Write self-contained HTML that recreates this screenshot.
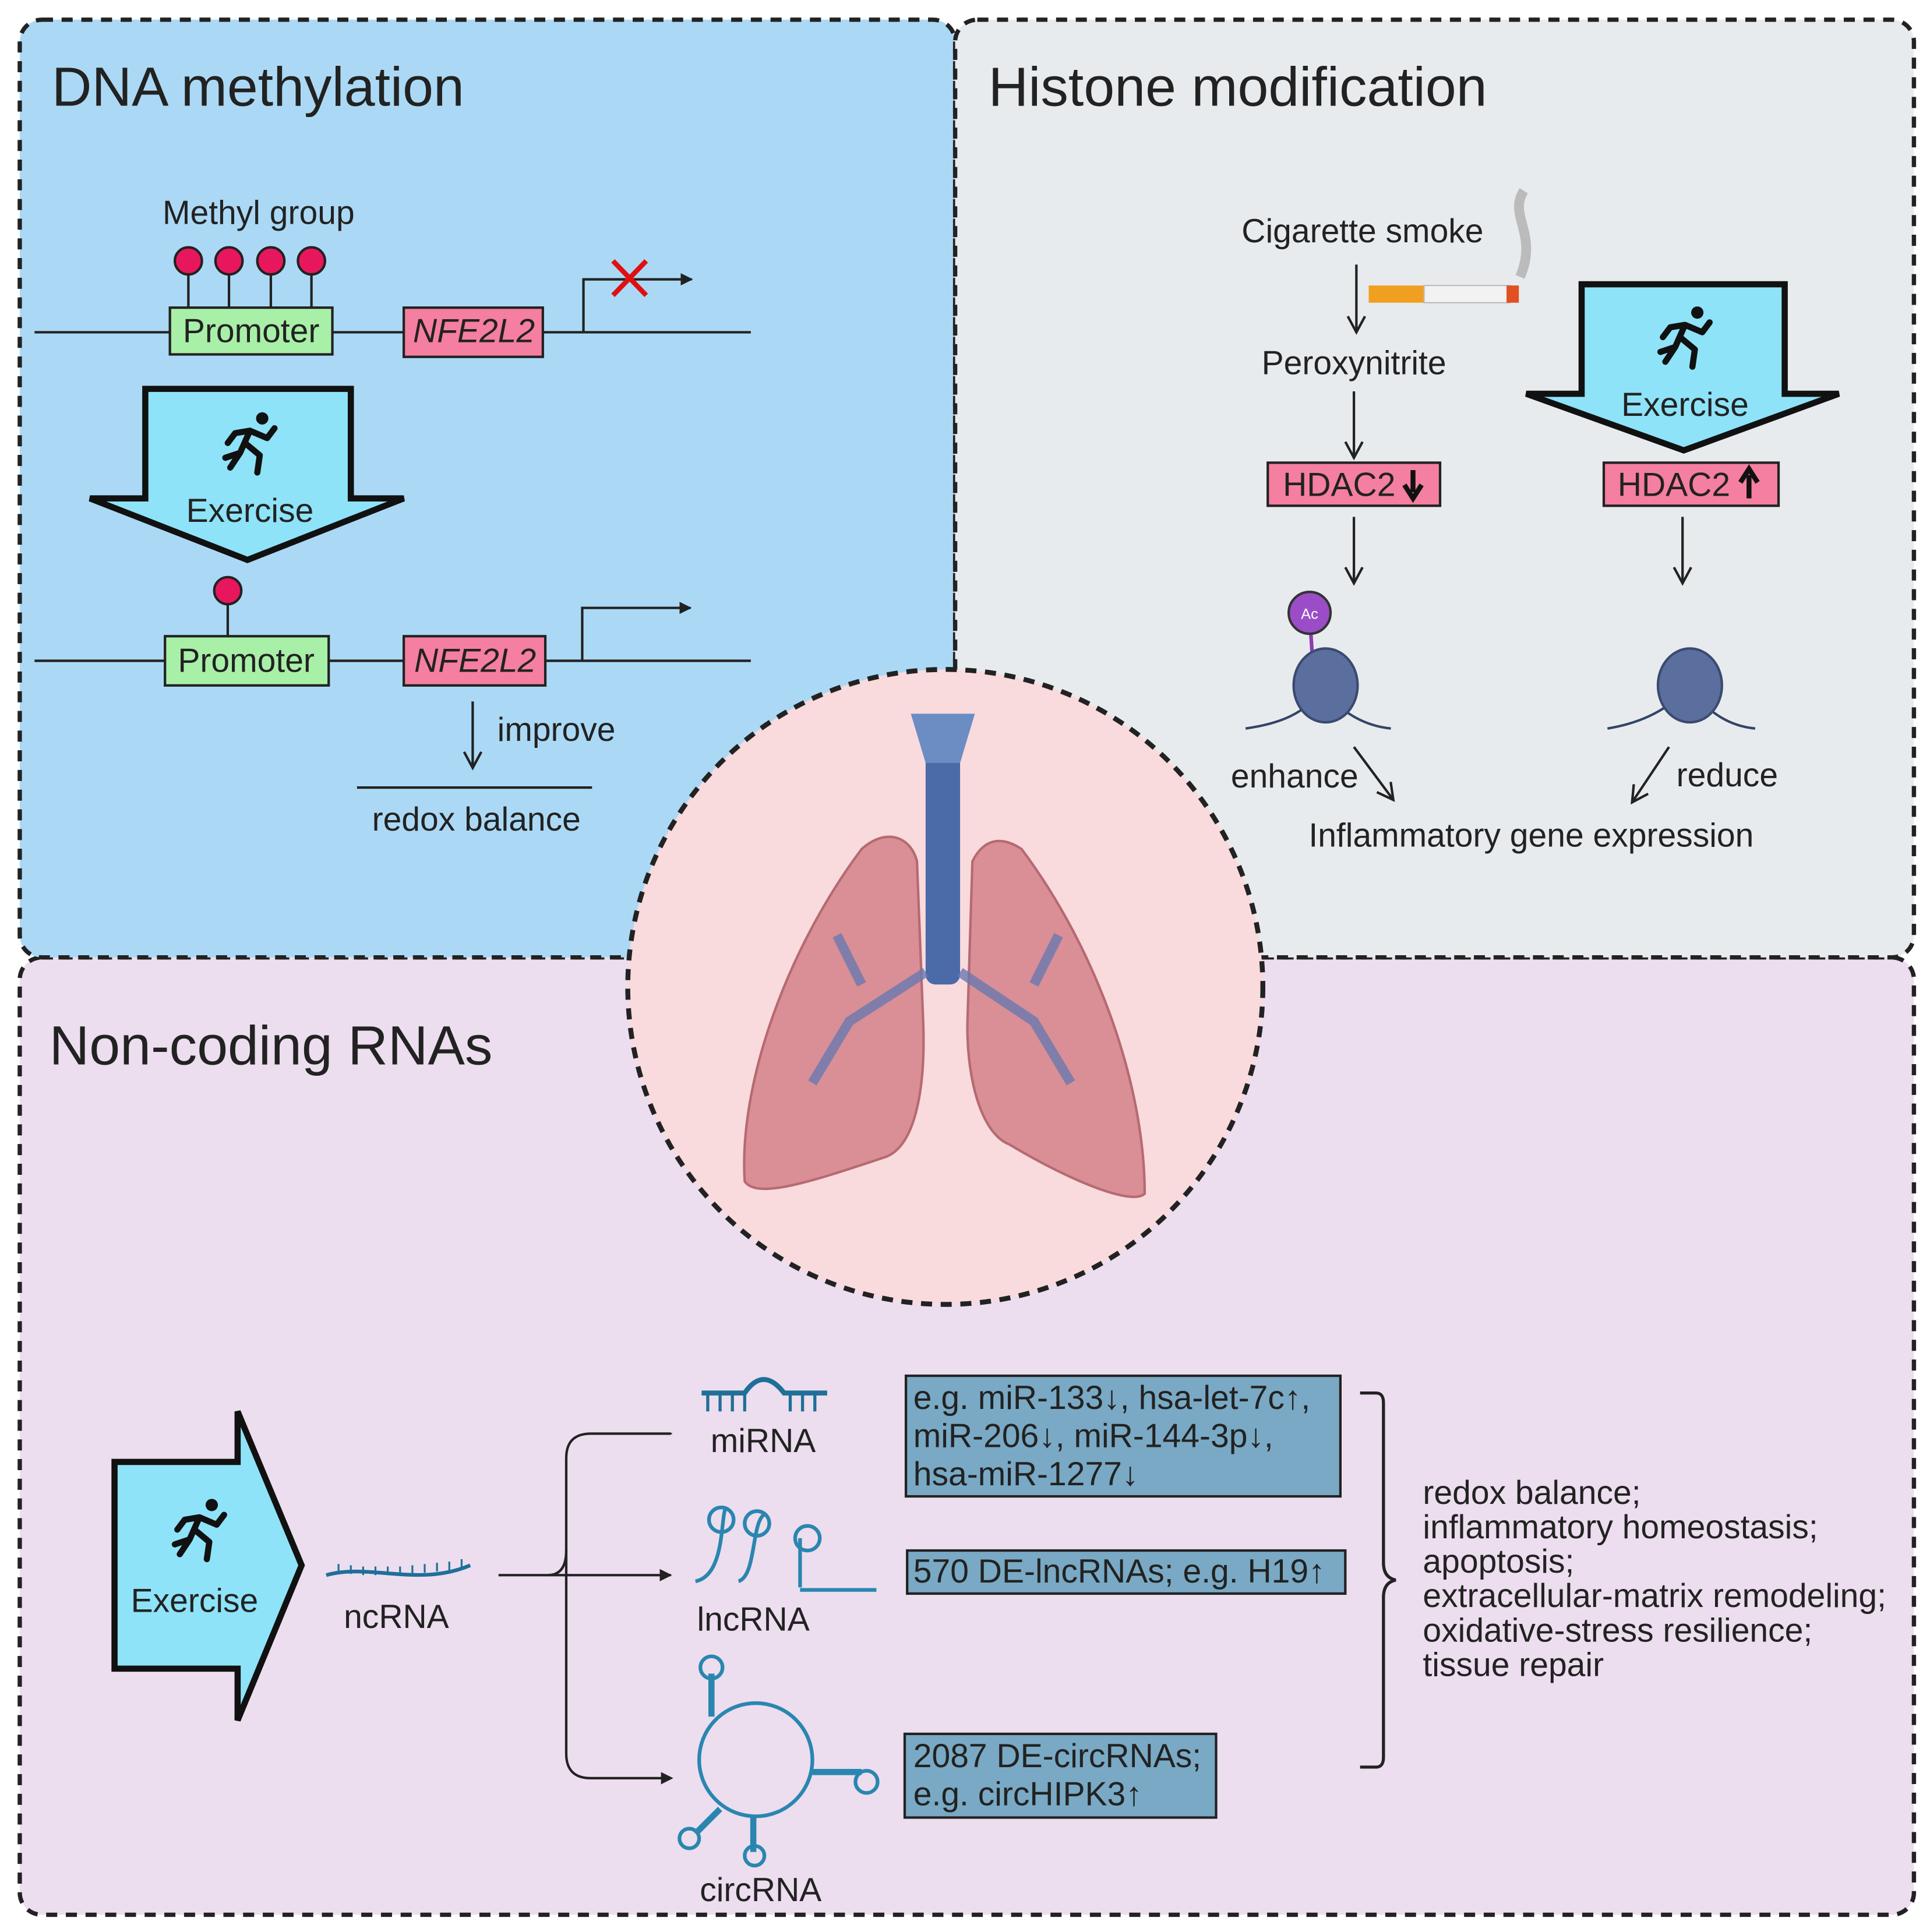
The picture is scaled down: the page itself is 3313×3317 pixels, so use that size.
<!DOCTYPE html>
<html><head><meta charset="utf-8"><style>html,body{margin:0;padding:0;background:#fff}svg{display:block}text{font-family:"Liberation Sans",sans-serif;fill:#222}</style></head><body>
<svg width="3313" height="3317" viewBox="0 0 1568 1570" xmlns="http://www.w3.org/2000/svg">
<defs>
<marker id="ah" markerWidth="10" markerHeight="10" refX="9" refY="5" orient="auto" markerUnits="userSpaceOnUse"><path d="M0,0 L10,5 L0,10 z" fill="#222"/></marker>
<marker id="av" markerWidth="16" markerHeight="16" refX="14" refY="8" orient="auto" markerUnits="userSpaceOnUse"><path d="M1,1 L14,8 L1,15" fill="none" stroke="#222" stroke-width="2"/></marker>
<g id="runner"><circle cx="12" cy="-22" r="5" fill="#111"/><path d="M-18,10 L-6,6 L2,-12 L16,-6 L22,-14 M2,-12 L-10,-10 L-16,-2 M-2,-2 L10,8 L8,22 M-6,6 L-14,18" stroke="#111" stroke-width="5" fill="none" stroke-linecap="round" stroke-linejoin="round"/></g>
</defs>
<rect width="1568" height="1570" fill="#fff"/>
<rect x="16" y="778" width="1539" height="778" rx="18" fill="#ecdeee" stroke="#222" stroke-width="3.5" stroke-dasharray="9,7"/>
<rect x="16" y="16" width="760" height="762" rx="18" fill="#abd9f5" stroke="#222" stroke-width="3.5" stroke-dasharray="9,7"/>
<rect x="776" y="16" width="779" height="762" rx="18" fill="#e8ebee" stroke="#222" stroke-width="3.5" stroke-dasharray="9,7"/>
<text x="42" y="86" font-size="45">DNA methylation</text>
<text x="803" y="86" font-size="45">Histone modification</text>
<text x="40" y="865" font-size="45">Non-coding RNAs</text>
<!-- DNA methylation -->
<text x="132" y="182" font-size="27">Methyl group</text>
<line x1="28" y1="270" x2="610" y2="270" stroke="#222" stroke-width="2"/>
<g stroke="#222" stroke-width="2" fill="#e8175d"><line x1="153" y1="212" x2="153" y2="252"/><line x1="186" y1="212" x2="186" y2="252"/><line x1="220" y1="212" x2="220" y2="252"/><line x1="253" y1="212" x2="253" y2="252"/><circle cx="153" cy="212" r="11"/><circle cx="186" cy="212" r="11"/><circle cx="220" cy="212" r="11"/><circle cx="253" cy="212" r="11"/></g>
<rect x="138" y="250" width="132" height="38" fill="#a8f0a8" stroke="#222" stroke-width="2"/><text x="204" y="278" font-size="27" text-anchor="middle">Promoter</text>
<rect x="328" y="250" width="113" height="40" fill="#f57fa0" stroke="#222" stroke-width="2"/><text x="385" y="278" font-size="27" text-anchor="middle" font-style="italic">NFE2L2</text>
<path d="M474,270 V227 H562" stroke="#222" stroke-width="2" fill="none" marker-end="url(#ah)"/>
<path d="M498,212 L525,240 M525,212 L498,240" stroke="#e01010" stroke-width="4"/>
<path d="M118,316 H285 V405 H328 L201,455 L73,405 H118 Z" fill="#8ee3f8" stroke="#111" stroke-width="5"/>
<use href="#runner" x="201" y="362"/><text x="203" y="424" font-size="27" text-anchor="middle">Exercise</text>
<line x1="28" y1="537" x2="610" y2="537" stroke="#222" stroke-width="2"/>
<line x1="185" y1="480" x2="185" y2="518" stroke="#222" stroke-width="2"/><circle cx="185" cy="480" r="11" fill="#e8175d" stroke="#222" stroke-width="2"/>
<rect x="134" y="517" width="133" height="40" fill="#a8f0a8" stroke="#222" stroke-width="2"/><text x="200" y="546" font-size="27" text-anchor="middle">Promoter</text>
<rect x="328" y="517" width="115" height="40" fill="#f57fa0" stroke="#222" stroke-width="2"/><text x="386" y="546" font-size="27" text-anchor="middle" font-style="italic">NFE2L2</text>
<path d="M473,537 V494 H561" stroke="#222" stroke-width="2" fill="none" marker-end="url(#ah)"/>
<line x1="384" y1="570" x2="384" y2="624" stroke="#222" stroke-width="2" marker-end="url(#av)"/>
<text x="404" y="602" font-size="27">improve</text>
<line x1="290" y1="640" x2="481" y2="640" stroke="#222" stroke-width="2"/>
<text x="387" y="675" font-size="27" text-anchor="middle">redox balance</text>
<!-- Histone -->
<text x="1107" y="197" font-size="27" text-anchor="middle">Cigarette smoke</text>
<rect x="1112" y="232" width="45" height="14" fill="#f0a020"/><rect x="1157" y="232" width="70" height="14" fill="#f2f2f2" stroke="#bbb"/><rect x="1224" y="232" width="10" height="14" fill="#e05020"/>
<path d="M1238,155 C1225,175 1250,190 1235,225" stroke="#bbb" stroke-width="8" fill="none"/>
<line x1="1102" y1="215" x2="1102" y2="270" stroke="#222" stroke-width="2" marker-end="url(#av)"/>
<text x="1100" y="304" font-size="27" text-anchor="middle">Peroxynitrite</text>
<line x1="1100" y1="318" x2="1100" y2="372" stroke="#222" stroke-width="2" marker-end="url(#av)"/>
<rect x="1030" y="376" width="140" height="35" fill="#f57fa0" stroke="#222" stroke-width="2"/><text x="1088" y="403" font-size="27" text-anchor="middle">HDAC2</text><path d="M1148,382 V400 M1141,394 L1148,405 L1155,394" stroke="#111" stroke-width="4" fill="none"/>
<path d="M1285,231 H1450 V320 H1494 L1368,366 L1240,320 H1285 Z" fill="#8ee3f8" stroke="#111" stroke-width="5"/>
<use href="#runner" x="1367" y="276"/><text x="1369" y="338" font-size="27" text-anchor="middle">Exercise</text>
<rect x="1303" y="376" width="142" height="35" fill="#f57fa0" stroke="#222" stroke-width="2"/><text x="1360" y="403" font-size="27" text-anchor="middle">HDAC2</text><path d="M1421,405 V386 M1414,392 L1421,381 L1428,392" stroke="#111" stroke-width="4" fill="none"/>
<line x1="1100" y1="420" x2="1100" y2="474" stroke="#222" stroke-width="2" marker-end="url(#av)"/>
<line x1="1367" y1="420" x2="1367" y2="474" stroke="#222" stroke-width="2" marker-end="url(#av)"/>
<line x1="1064" y1="500" x2="1066" y2="530" stroke="#8a3fb0" stroke-width="3"/><circle cx="1064" cy="498" r="17" fill="#9b4dc8" stroke="#333" stroke-width="2"/><text x="1064" y="503" font-size="12" text-anchor="middle" style="fill:#fff">Ac</text>
<path d="M1012,592 C1040,588 1060,580 1075,560 C1090,580 1110,590 1130,592" stroke="#334466" stroke-width="2" fill="none"/>
<ellipse cx="1077" cy="557" rx="26" ry="30" fill="#5a6f9e" stroke="#3a4a70" stroke-width="2"/>
<path d="M1306,592 C1330,588 1350,580 1372,560 C1390,580 1405,590 1426,592" stroke="#334466" stroke-width="2" fill="none"/>
<ellipse cx="1373" cy="557" rx="26" ry="30" fill="#5a6f9e" stroke="#3a4a70" stroke-width="2"/>
<text x="1000" y="640" font-size="27">enhance</text>
<line x1="1100" y1="607" x2="1132" y2="650" stroke="#222" stroke-width="2" marker-end="url(#av)"/>
<line x1="1356" y1="607" x2="1326" y2="652" stroke="#222" stroke-width="2" marker-end="url(#av)"/>
<text x="1362" y="639" font-size="27">reduce</text>
<text x="1244" y="688" font-size="27" text-anchor="middle">Inflammatory gene expression</text>
<!-- center circle -->
<circle cx="768" cy="802" r="258" fill="#f9dadd" stroke="#222" stroke-width="4" stroke-dasharray="9,7"/>
<path d="M745,700 C740,680 720,672 700,690 C640,770 600,880 605,960 C615,975 660,960 720,940 C745,930 752,880 750,830 Z" fill="#d98f95" stroke="#b56a72" stroke-width="2"/>
<path d="M790,700 C800,680 815,680 830,690 C890,770 930,880 930,970 C920,980 870,960 820,930 C795,920 785,870 786,830 Z" fill="#d98f95" stroke="#b56a72" stroke-width="2"/>
<rect x="752" y="590" width="28" height="210" rx="8" fill="#4a6aa8"/>
<path d="M740,580 H792 L780,620 H752 Z" fill="#6c8cc4"/>
<path d="M752,790 L690,830 L660,880 M780,790 L840,830 L870,880 M700,800 L680,760 M840,800 L860,760" stroke="#6a78b0" stroke-width="8" fill="none" opacity="0.8"/>
<!-- Non-coding -->
<path d="M93,1188 H193 V1147 L245,1272 L193,1398 V1356 H93 Z" fill="#8ee3f8" stroke="#111" stroke-width="5"/>
<use href="#runner" x="160" y="1245"/><text x="158" y="1310" font-size="27" text-anchor="middle">Exercise</text>
<path d="M265,1280 C300,1270 340,1290 382,1272" stroke="#1f6f98" stroke-width="3" fill="none"/>
<path d="M275,1278 v-7 M285,1279 v-7 M295,1280 v-7 M305,1280 v-7 M315,1280 v-7 M325,1280 v-7 M335,1279 v-7 M345,1278 v-7 M355,1277 v-7 M365,1276 v-7 M375,1274 v-7" stroke="#1f6f98" stroke-width="1.5"/>
<text x="322" y="1323" font-size="27" text-anchor="middle">ncRNA</text>
<line x1="405" y1="1280" x2="545" y2="1280" stroke="#222" stroke-width="2" marker-end="url(#ah)"/>
<path d="M545,1165 H480 Q460,1165 460,1185 V1425 Q460,1445 480,1445 H545" stroke="#222" stroke-width="2" fill="none"/>
<path d="M445,1280 Q460,1280 460,1260" stroke="#222" stroke-width="2" fill="none"/>
<path d="M540,1165 h6 M540,1445 h6" stroke="#222" marker-end="url(#ah)"/>
<path d="M570,1132 H605 Q620,1110 637,1132 H672" stroke="#1f6f98" stroke-width="4" fill="none"/>
<path d="M575,1132 v15 M585,1132 v15 M595,1132 v15 M605,1132 v15 M642,1132 v15 M652,1132 v15 M662,1132 v15" stroke="#1f6f98" stroke-width="2.5"/>
<text x="620" y="1180" font-size="27" text-anchor="middle">miRNA</text>
<path d="M565,1285 C590,1280 585,1230 590,1225 M600,1285 C615,1280 610,1235 622,1230 M650,1290 V1250 M650,1292 H712" stroke="#2a86b0" stroke-width="3" fill="none"/>
<circle cx="586" cy="1235" r="10" fill="none" stroke="#2a86b0" stroke-width="3"/><circle cx="615" cy="1238" r="10" fill="none" stroke="#2a86b0" stroke-width="3"/><circle cx="656" cy="1250" r="10" fill="none" stroke="#2a86b0" stroke-width="3"/>
<text x="612" y="1325" font-size="27" text-anchor="middle">lncRNA</text>
<circle cx="614" cy="1430" r="46" fill="none" stroke="#2a86b0" stroke-width="3"/>
<path d="M578,1360 V1395 M660,1440 H700 M585,1470 L565,1490 M612,1476 V1505" stroke="#2a86b0" stroke-width="5" fill="none"/>
<circle cx="578" cy="1355" r="9" fill="none" stroke="#2a86b0" stroke-width="3"/><circle cx="704" cy="1448" r="9" fill="none" stroke="#2a86b0" stroke-width="3"/><circle cx="560" cy="1494" r="8" fill="none" stroke="#2a86b0" stroke-width="3"/><circle cx="613" cy="1508" r="8" fill="none" stroke="#2a86b0" stroke-width="3"/>
<text x="618" y="1545" font-size="27" text-anchor="middle">circRNA</text>
<rect x="736" y="1118" width="353" height="98" fill="#79a9c4" stroke="#222" stroke-width="2"/>
<text font-size="27"><tspan x="742" y="1145">e.g. miR-133↓, hsa-let-7c↑,</tspan><tspan x="742" y="1176">miR-206↓, miR-144-3p↓,</tspan><tspan x="742" y="1207">hsa-miR-1277↓</tspan></text>
<rect x="737" y="1260" width="356" height="35" fill="#79a9c4" stroke="#222" stroke-width="2"/>
<text x="742" y="1286" font-size="27">570 DE-lncRNAs; e.g. H19↑</text>
<rect x="735" y="1409" width="253" height="68" fill="#79a9c4" stroke="#222" stroke-width="2"/>
<text font-size="27"><tspan x="742" y="1436">2087 DE-circRNAs;</tspan><tspan x="742" y="1467">e.g. circHIPK3↑</tspan></text>
<path d="M1105,1132 H1118 Q1124,1132 1124,1140 V1270 Q1124,1282 1134,1284 Q1124,1286 1124,1298 V1428 Q1124,1436 1118,1436 H1105" stroke="#222" stroke-width="2.5" fill="none"/>
<text font-size="27"><tspan x="1156" y="1222">redox balance;</tspan><tspan x="1156" y="1250">inflammatory homeostasis;</tspan><tspan x="1156" y="1278">apoptosis;</tspan><tspan x="1156" y="1306">extracellular-matrix remodeling;</tspan><tspan x="1156" y="1334">oxidative-stress resilience;</tspan><tspan x="1156" y="1362">tissue repair</tspan></text>
</svg>
</body></html>
